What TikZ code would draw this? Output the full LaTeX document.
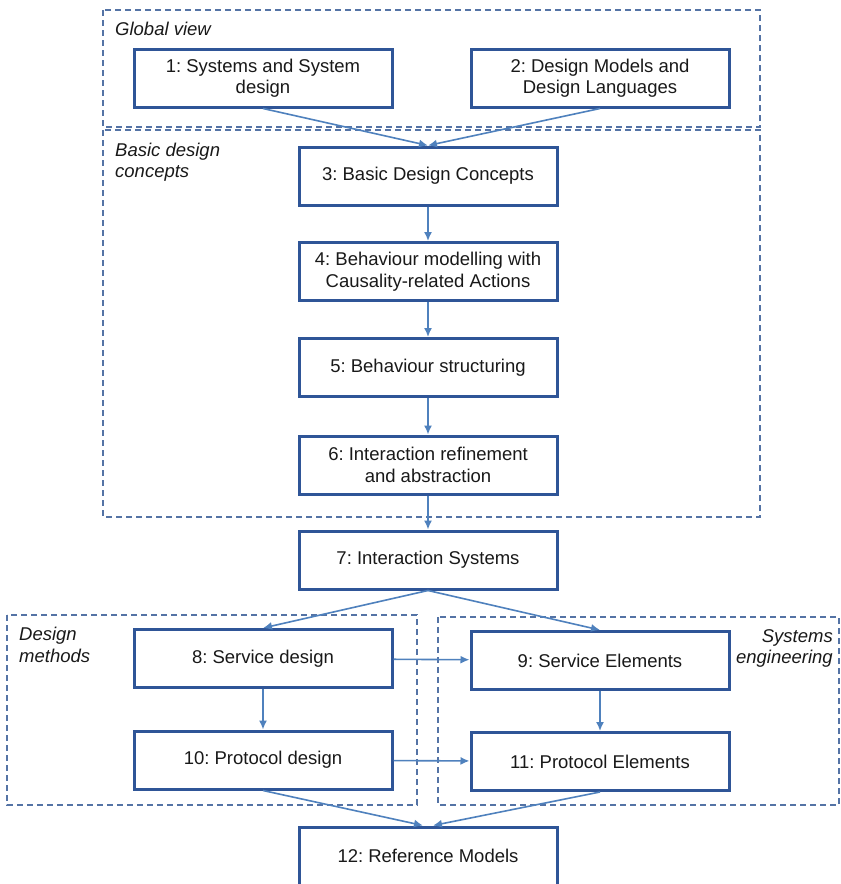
\documentclass[tikz,border=0pt]{standalone}
\usepackage{fontspec}
\setmainfont{Liberation Sans}
\usetikzlibrary{arrows.meta}
\definecolor{boxcol}{RGB}{47,85,151}
\definecolor{arrcol}{RGB}{79,129,189}
\definecolor{dashcol}{RGB}{84,115,165}
\definecolor{txtcol}{RGB}{25,25,25}
\frenchspacing
\begin{document}
\begin{tikzpicture}[x=1pt,y=-1pt,
  stepbox/.style={draw=boxcol, line width=3pt, fill=white, minimum width=258pt, minimum height=58pt,
    align=center, inner sep=2pt, text=txtcol, font=\fontsize{18.5}{21.5}\selectfont},
  flow/.style={draw=arrcol, line width=1.6pt, -{Latex[length=9pt,width=8pt]}},
  group/.style={draw=dashcol, line width=1.5pt, dash pattern=on 6pt off 4pt},
  grouplabel/.style={inner sep=0pt, text=txtcol, font=\fontsize{18.5}{21}\selectfont\itshape}]
\useasboundingbox (0,0) rectangle (841,884);
\fill[white] (0,0) rectangle (841,884);
% groups
\draw[group] (103,10) rectangle (760,127);
\draw[group] (103,130) rectangle (760,517);
\draw[group] (7,615) rectangle (417,805);
\draw[group] (438,617) rectangle (839,805);
\node[grouplabel, anchor=base west] (gl1) at (115,35) {Global view};
\node[grouplabel, anchor=base west] (gl2a) at (115,156) {Basic design};
\node[grouplabel, anchor=base west] (gl2b) at (115,177) {concepts};
\node[grouplabel, anchor=base west] (gl3a) at (19,640) {Design};
\node[grouplabel, anchor=base west] (gl3b) at (19,662) {methods};
\node[grouplabel, anchor=base east] (gl4a) at (833,642) {Systems};
\node[grouplabel, anchor=base east] (gl4b) at (833,663) {engineering};
% boxes
\node[stepbox] (n1) at (263,78) {1: Systems and System\\design};
\node[stepbox] (n2) at (600,78) {2: Design Models and\\Design Languages};
\node[stepbox] (n3) at (428,176) {3: Basic Design Concepts};
\node[stepbox] (n4) at (428,271.5) {4: Behaviour modelling with\\Causality-related Actions};
\node[stepbox] (n5) at (428,367.5) {5: Behaviour structuring};
\node[stepbox] (n6) at (428,465) {6: Interaction refinement\\and abstraction};
\node[stepbox] (n7) at (428,560) {7: Interaction Systems};
\node[stepbox] (n8) at (263,658.5) {8: Service design};
\node[stepbox] (n9) at (600,660.5) {9: Service Elements};
\node[stepbox] (n10) at (263,760) {10: Protocol design};
\node[stepbox] (n11) at (600,761.5) {11: Protocol Elements};
\node[stepbox] (n12) at (428,856) {12: Reference Models};
% connectors
\draw[flow] (n1.south) -- (n3.north);
\draw[flow] (n2.south) -- (n3.north);
\draw[flow] (n3) -- (n4);
\draw[flow] (n4) -- (n5);
\draw[flow] (n5) -- (n6);
\draw[flow] (n6) -- (n7);
\draw[flow] (n7.south) -- (n8.north);
\draw[flow] (n7.south) -- (n9.north);
\draw[flow] (n8) -- (n9);
\draw[flow] (n8) -- (n10);
\draw[flow] (n9) -- (n11);
\draw[flow] (n10) -- (n11);
\draw[flow] (n10.south) -- ([xshift=-5pt]n12.north);
\draw[flow] (n11.south) -- ([xshift=5pt]n12.north);
\end{tikzpicture}
\end{document}
